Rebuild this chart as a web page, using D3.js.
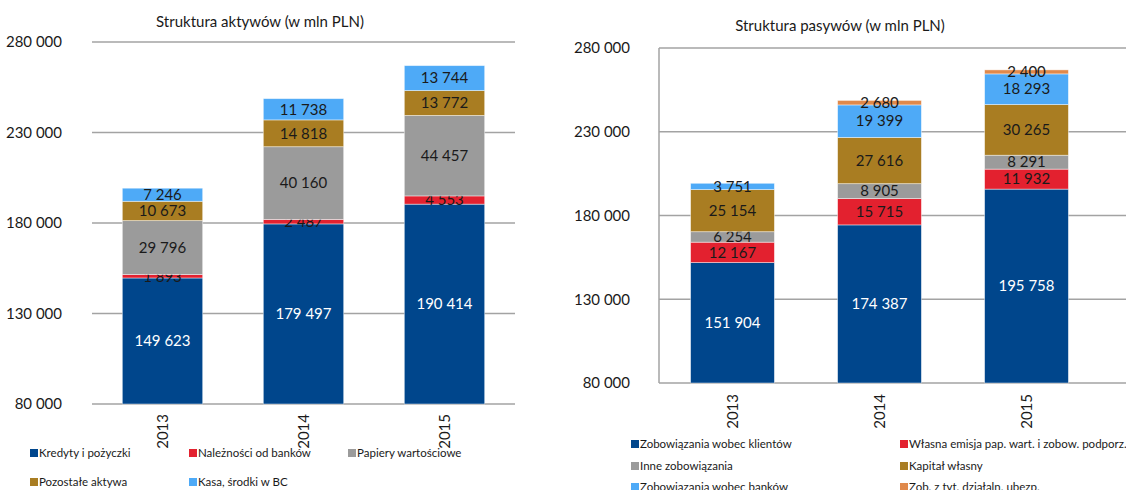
<!DOCTYPE html>
<html>
<head>
<meta charset="utf-8">
<script src="https://cdn.jsdelivr.net/npm/d3@7"></script>
<style>
  body { margin: 0; background: #fff; }
  svg { display: block; font-family: Lato, "Open Sans", sans-serif; }
</style>
</head>
<body>
<svg id="chart" width="1126" height="490"></svg>
<script>
// data
const years = ['2013', '2014', '2015'];
const yTicks = [80000, 130000, 180000, 230000, 280000];

const assetSeries = ['Kredyty i pożyczki', 'Należności od banków', 'Papiery wartościowe', 'Pozostałe aktywa', 'Kasa, środki w BC'];
const kredyty = [149623, 179497, 190414];
const naleznosci = [1893, 2487, 4553];
const papiery = [29796, 40160, 44457];
const pozostale = [10673, 14818, 13772];
const kasa = [7246, 11738, 13744];

const liabSeries = ['Zobowiązania wobec klientów', 'Własna emisja pap. wart. i zobow. podporz.', 'Inne zobowiązania', 'Kapitał własny', 'Zobowiązania wobec banków', 'Zob. z tyt. działaln. ubezp.'];
const zobKlienci = [151904, 174387, 195758];
const emisja = [12167, 15715, 11932];
const inneZob = [6254, 8905, 8291];
const kapital = [25154, 27616, 30265];
const zobBanki = [3751, 19399, 18293];
const ubezp = [0, 2680, 2400];

const assetColors = ['#00468c', '#e3212f', '#9b9b9b', '#a97d22', '#4eaaf7'];
const liabColors = ['#00468c', '#e3212f', '#9b9b9b', '#a97d22', '#4eaaf7', '#e0894b'];

const fmt = d3.formatLocale({ decimal: ',', thousands: ' ', grouping: [3], currency: ['', ''] }).format(',d');

const svg = d3.select('#chart');
const yMin = 80000;

function drawChart(opt) {
  const g = svg.append('g');
  const x = d3.scaleBand().domain(years).range(opt.xRange).paddingInner(0.43).paddingOuter(0.215);
  const y = d3.scaleLinear().domain([yMin, 280000]).range(opt.yRange);

  // title
  g.append('text')
    .attr('x', opt.titleX).attr('y', opt.titleY)
    .attr('text-anchor', 'middle')
    .attr('font-size', '15px')
    .attr('fill', '#1a1a1a')
    .text(opt.title);

  // gridlines
  g.selectAll('line.grid')
    .data(yTicks)
    .enter().append('line')
      .attr('class', 'grid')
      .attr('x1', opt.xRange[0]).attr('x2', opt.gridEnd)
      .attr('y1', d => y(d)).attr('y2', d => y(d))
      .attr('stroke', '#a3a3a3').attr('stroke-width', 1.5);

  if (opt.leftAxis) {
    g.append('line')
      .attr('x1', opt.xRange[0]).attr('x2', opt.xRange[0])
      .attr('y1', y(280000)).attr('y2', y(yMin))
      .attr('stroke', '#a3a3a3').attr('stroke-width', 1.5);
  }

  // tick labels
  g.selectAll('text.tick')
    .data(yTicks)
    .enter().append('text')
      .attr('class', 'tick')
      .attr('x', opt.tickX).attr('y', d => y(d))
      .attr('dy', '0.35em')
      .attr('text-anchor', 'end')
      .attr('font-size', '15px')
      .attr('fill', '#1a1a1a')
      .text(d => fmt(d));

  // stack the series
  const rows = years.map((yr, i) => {
    const r = { year: yr };
    opt.series.forEach((s, k) => { r[s] = opt.values[k][i]; });
    return r;
  });
  const stacked = d3.stack().keys(opt.series)(rows);
  const color = d3.scaleOrdinal(opt.series, opt.colors);

  stacked.forEach((layer, k) => {
    const lg = g.append('g');
    const segs = layer.filter(d => d[1] > d[0]);
    // axis starts at 80 000, so clip the bottom of each stack there
    const lo = d => Math.max(d[0], yMin);
    lg.selectAll('rect')
      .data(segs)
      .enter().append('rect')
        .attr('x', d => x(d.data.year))
        .attr('width', x.bandwidth())
        .attr('y', d => y(d[1]))
        .attr('height', d => y(lo(d)) - y(d[1]))
        .attr('fill', color(layer.key))
        .attr('stroke', 'rgba(255,255,255,0.55)')
        .attr('stroke-width', 0.8);
    lg.selectAll('text')
      .data(segs)
      .enter().append('text')
        .attr('x', d => x(d.data.year) + x.bandwidth() / 2)
        .attr('y', d => y((lo(d) + d[1]) / 2))
        .attr('dy', '0.35em')
        .attr('text-anchor', 'middle')
        .attr('font-size', '15px')
        .attr('fill', k === 0 ? '#fff' : '#1a1a1a')
        .text(d => fmt(d[1] - d[0]));
  });

  // year labels
  g.selectAll('text.year')
    .data(years)
    .enter().append('text')
      .attr('class', 'year')
      .attr('transform', d => `translate(${x(d) + x.bandwidth() / 2},${opt.yearY}) rotate(-90)`)
      .attr('dy', '0.35em')
      .attr('text-anchor', 'end')
      .attr('font-size', '15px')
      .attr('fill', '#1a1a1a')
      .text(d => d);

  // legend
  const leg = g.selectAll('g.leg')
    .data(opt.series)
    .enter().append('g')
      .attr('class', 'leg')
      .attr('transform', (d, i) => `translate(${opt.legX[i % opt.legCols]},${opt.legY[Math.floor(i / opt.legCols)]})`);
  leg.append('rect')
    .attr('x', 0).attr('y', -4).attr('width', 8).attr('height', 8)
    .attr('fill', d => color(d));
  leg.append('text')
    .attr('x', 9).attr('dy', '0.35em')
    .attr('font-size', '11.5px')
    .attr('fill', '#1a1a1a')
    .text(d => d);
}

drawChart({
  title: 'Struktura aktywów (w mln PLN)', titleX: 260, titleY: 27,
  xRange: [92, 515], yRange: [404, 42], gridEnd: 515, tickX: 62, leftAxis: false,
  series: assetSeries, values: [kredyty, naleznosci, papiery, pozostale, kasa], colors: assetColors,
  yearY: 414, legCols: 3, legX: [30, 189, 348], legY: [453, 482]
});

drawChart({
  title: 'Struktura pasywów (w mln PLN)', titleX: 840, titleY: 31,
  xRange: [659, 1100], yRange: [383, 48], gridEnd: 1126, tickX: 630, leftAxis: true,
  series: liabSeries, values: [zobKlienci, emisja, inneZob, kapital, zobBanki, ubezp], colors: liabColors,
  yearY: 394, legCols: 2, legX: [631, 900], legY: [444, 466, 487]
});
</script>
</body>
</html>
